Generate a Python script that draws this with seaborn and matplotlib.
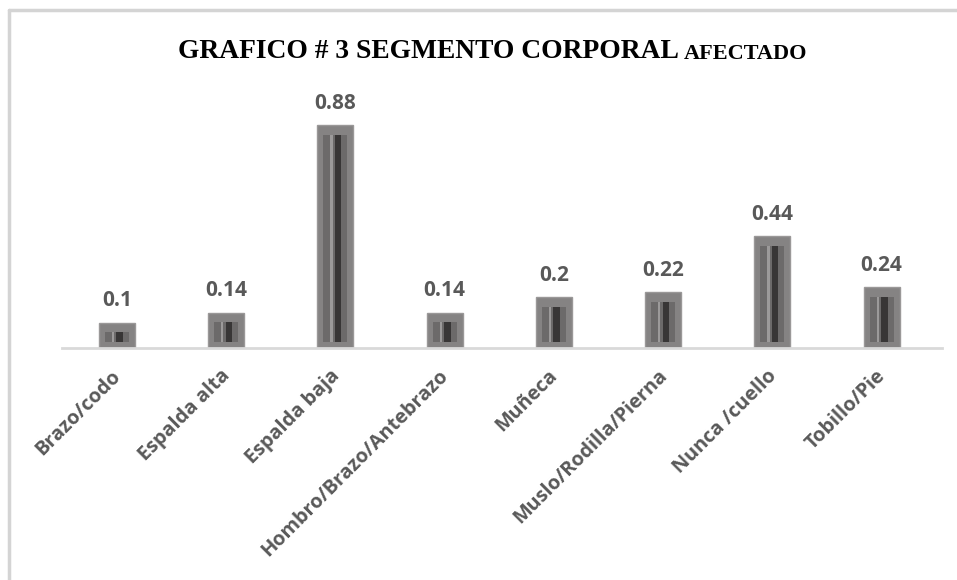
import matplotlib
matplotlib.use('Agg')
import matplotlib.pyplot as plt
from matplotlib.lines import Line2D
from matplotlib.transforms import ScaledTranslation
import seaborn as sns
import pandas as pd

# data
segments = ['Brazo/codo', 'Espalda alta', 'Espalda baja', 'Hombro/Brazo/Antebrazo',
            'Muñeca', 'Muslo/Rodilla/Pierna', 'Nunca /cuello', 'Tobillo/Pie']
values = [0.1, 0.14, 0.88, 0.14, 0.2, 0.22, 0.44, 0.24]

df = pd.DataFrame({'segmento': segments, 'valor': values})

sns.set_style('white')
plt.rcParams['font.family'] = ['Open Sans', 'DejaVu Sans']

fig = plt.figure(figsize=(9.57, 5.8), dpi=100)
ax = fig.add_axes([0.065, 0.40, 0.919, 0.437])

n = len(values)
# bevelled bars: outer frame, inner face, dark groove, light highlight
layers = [('#858383', 0.33, 0.0), ('#6c6a6a', 0.22, 0.0),
          ('#383636', 0.06, 0.025), ('#9c9a9a', 0.02, -0.035)]
for k, (col, w, dx) in enumerate(layers):
    sns.barplot(data=df, x='segmento', y='valor', color=col, width=w,
                edgecolor='#9a9898' if k == 0 else 'none',
                linewidth=1.0 if k == 0 else 0, saturation=1, ax=ax)
    if k > 0:
        for p in ax.patches[k * n:(k + 1) * n]:
            h = p.get_height()
            p.set_x(p.get_x() + dx)
            p.set_y(0.022)
            p.set_height(max(h - 0.06, 0.004))

ax.set_ylim(0, 1.0)
ax.set_xlim(-0.5, 7.55)
ax.set_xlabel('')
ax.set_ylabel('')
ax.set_yticks([])
for s in ['top', 'right', 'left']:
    ax.spines[s].set_visible(False)
ax.spines['bottom'].set_color('#d9d9d9')
ax.spines['bottom'].set_linewidth(2)

for i, v in enumerate(values):
    ax.text(i, v + 0.045, f'{v:g}', ha='center', va='bottom', fontsize=15,
            fontweight='bold', color='#595959')

ax.set_xticks(range(n))
ax.set_xticklabels(segments, rotation=45, ha='right', rotation_mode='anchor',
                   fontsize=14.3, fontweight='bold', color='#595959')
ax.tick_params(axis='x', length=0, pad=13)
shift = ScaledTranslation(-6 / 100, 0, fig.dpi_scale_trans)
for lab in ax.get_xticklabels():
    lab.set_transform(lab.get_transform() + shift)

t1 = fig.text(0.186, 0.9, 'GRAFICO # 3 SEGMENTO CORPORAL ', fontsize=19.8,
              fontweight='bold', family='Liberation Serif', color='black',
              ha='left', va='baseline')
ax.annotate('AFECTADO', xy=(1, 0), xycoords=t1, fontsize=16, fontweight='bold',
            family='Liberation Serif', color='black', ha='left', va='bottom')

# light chart border at top and left
fig.add_artist(Line2D([0.009, 1.0], [0.983, 0.983], transform=fig.transFigure,
                      color='#d4d4d4', linewidth=2.5))
fig.add_artist(Line2D([0.009, 0.009], [0.0, 0.983], transform=fig.transFigure,
                      color='#d4d4d4', linewidth=2.5))

fig.savefig('out.png', dpi=100)
